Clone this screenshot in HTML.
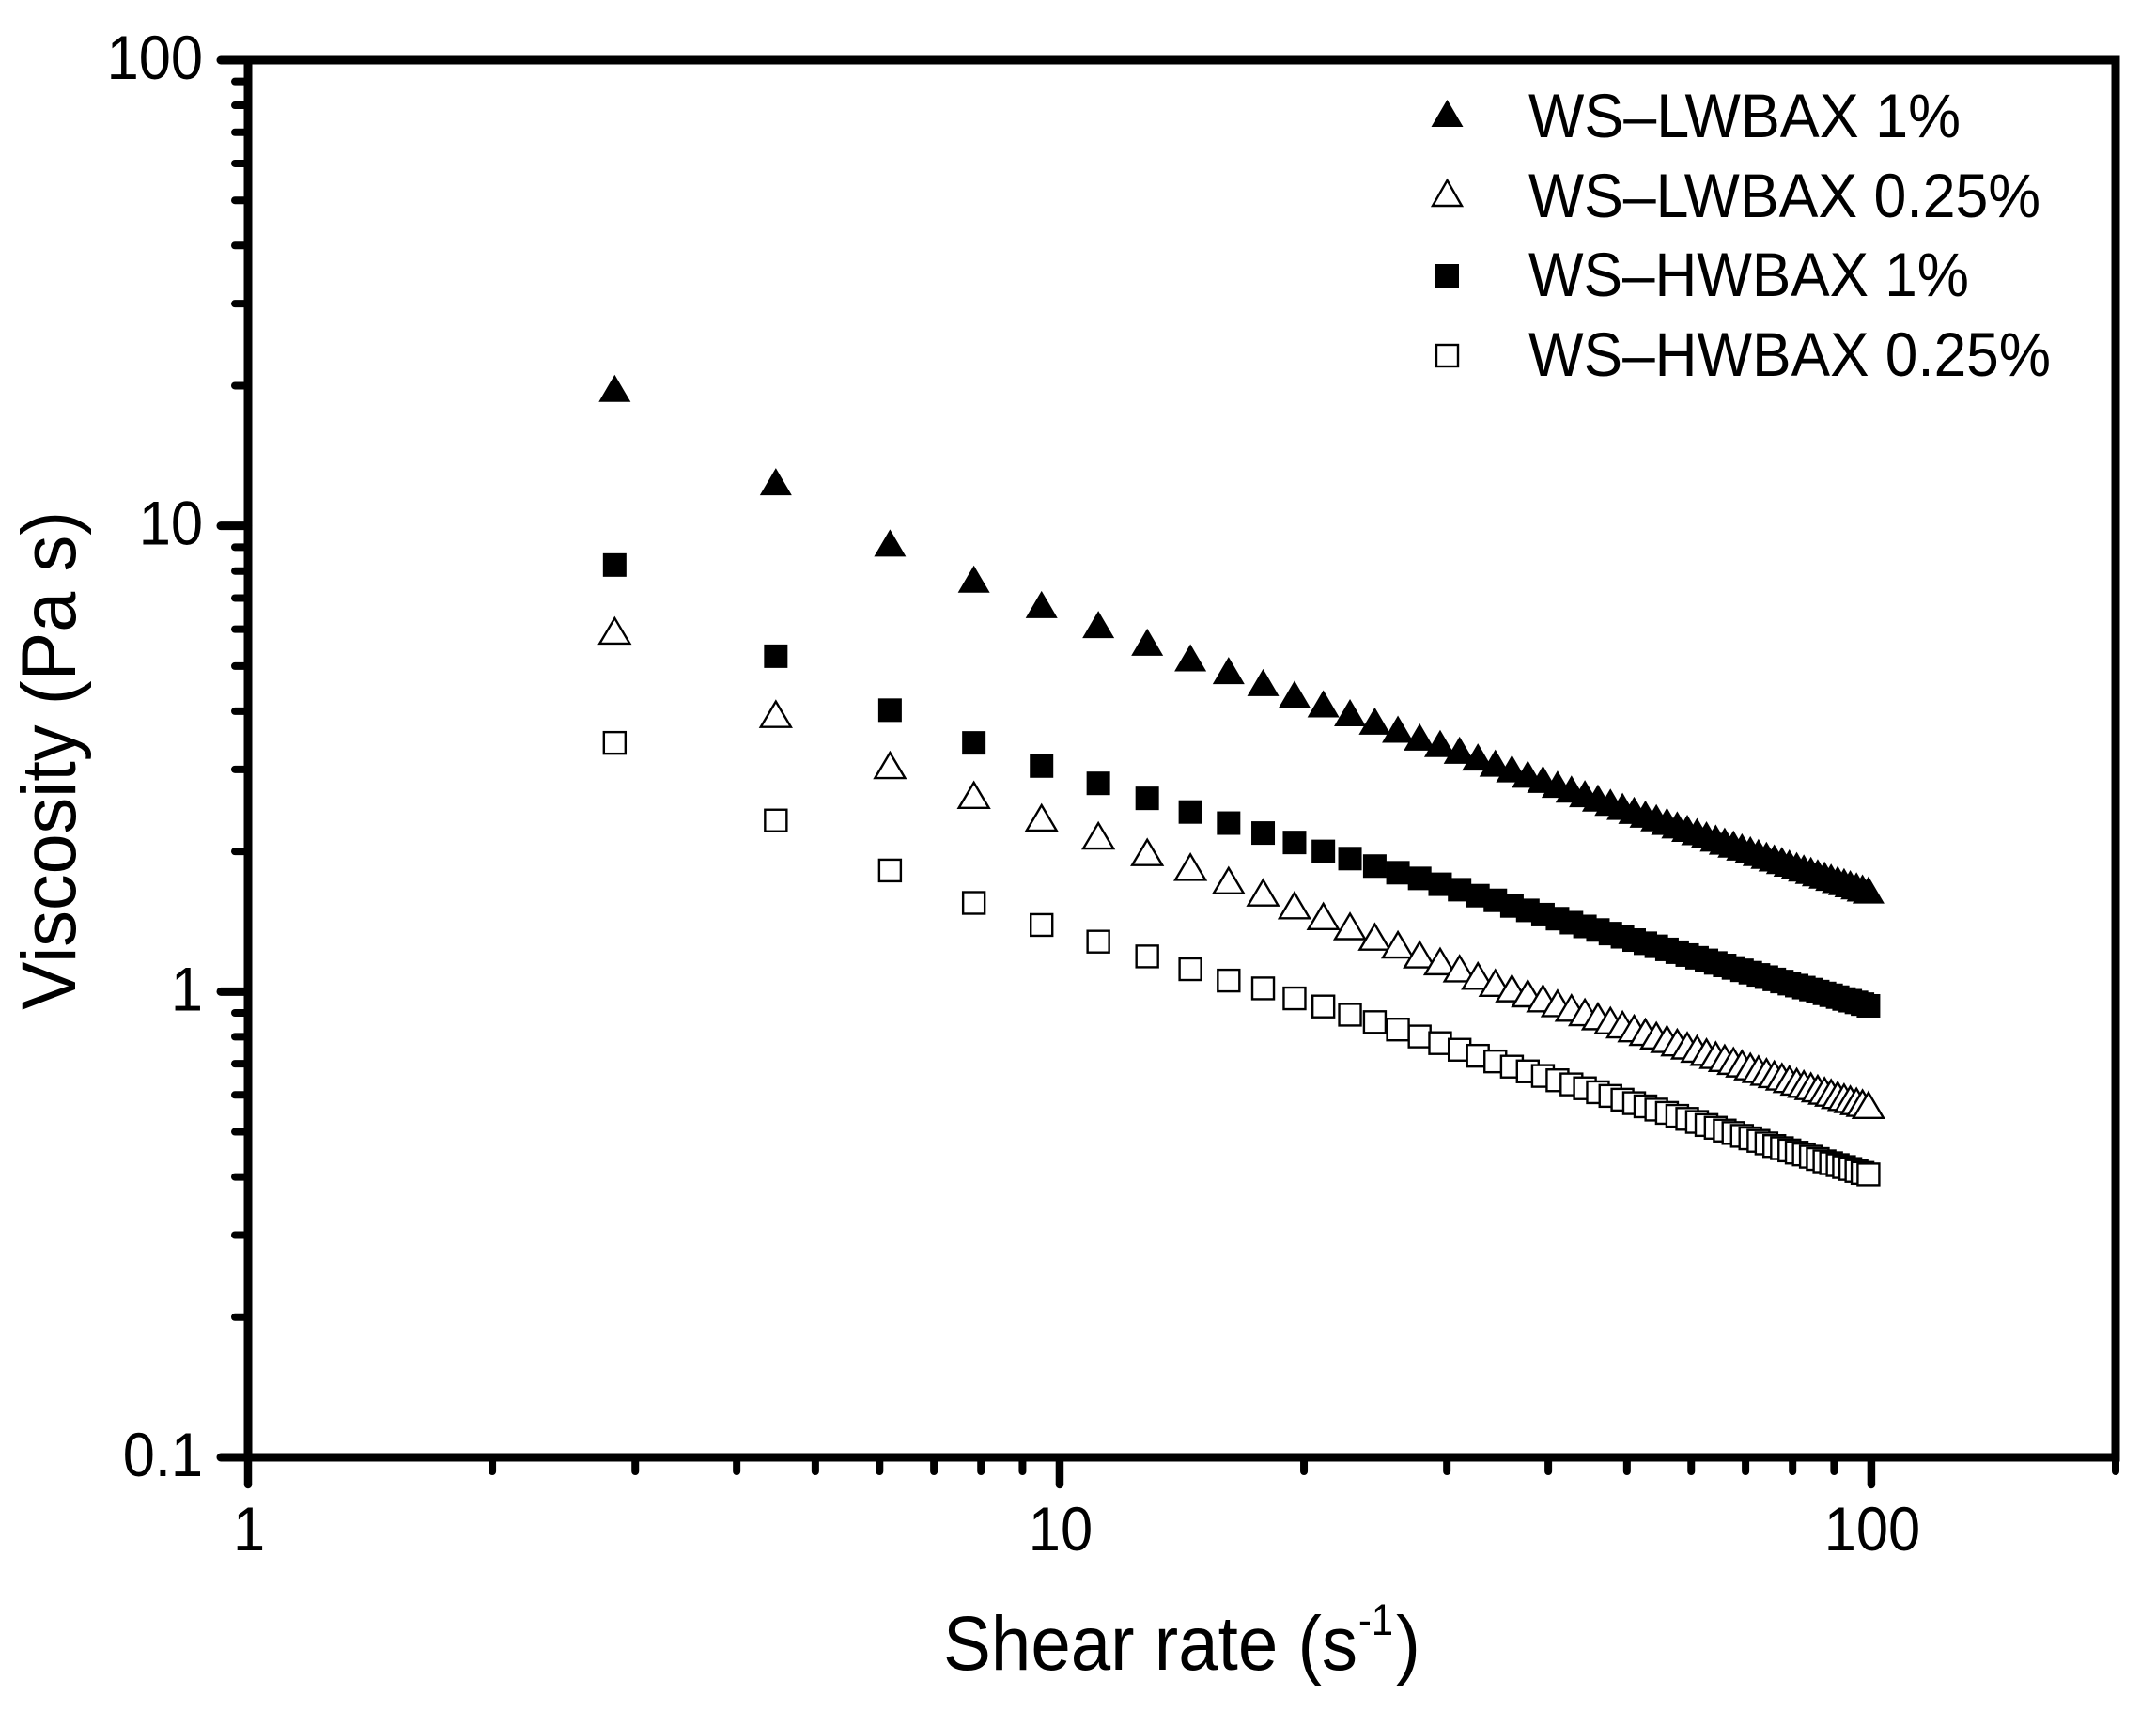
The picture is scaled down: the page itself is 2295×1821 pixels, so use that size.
<!DOCTYPE html>
<html lang="en">
<head>
<meta charset="utf-8">
<title>Viscosity vs shear rate</title>
<style>
html,body{margin:0;padding:0;background:#fff;}
svg{display:block;}
text{font-family:"Liberation Sans",Arial,sans-serif;fill:#000;}
.tick-text{font-size:66px;}
.legend-text{font-size:66px;}
.title-text{font-size:82px;}
</style>
</head>
<body>
<svg id="chart" xmlns="http://www.w3.org/2000/svg" width="2295" height="1821" viewBox="0 0 2295 1821">
  <rect x="0" y="0" width="2295" height="1821" fill="#fff"/>
  <g id="series-layer"></g>
  <g id="axes-layer"></g>
  <text class="title-text" transform="translate(80,1075) rotate(-90)" x="0" y="0" textLength="531" lengthAdjust="spacingAndGlyphs">Viscosity (Pa s)</text>
  <text class="title-text" x="1004" y="1777" textLength="441" lengthAdjust="spacingAndGlyphs">Shear rate (s</text>
  <text x="1446" y="1740" style="font-size:47px" textLength="37" lengthAdjust="spacingAndGlyphs">-1</text>
  <text class="title-text" x="1486" y="1777" textLength="26" lengthAdjust="spacingAndGlyphs">)</text>
  <g>
    <polygon points="1540.5,106 1557.5,135 1523.5,135" fill="#000"/>
    <text class="legend-text" x="1627" y="146" textLength="460" lengthAdjust="spacingAndGlyphs">WS–LWBAX 1%</text>
    <polygon points="1540.5,192 1556,219 1525,219" fill="#fff" stroke="#000" stroke-width="2.4"/>
    <text class="legend-text" x="1627" y="231" textLength="545" lengthAdjust="spacingAndGlyphs">WS–LWBAX 0.25%</text>
    <rect x="1528" y="281" width="25" height="25" fill="#000"/>
    <text class="legend-text" x="1627" y="315" textLength="469" lengthAdjust="spacingAndGlyphs">WS–HWBAX 1%</text>
    <rect x="1529" y="367" width="23" height="23" fill="#fff" stroke="#000" stroke-width="2.4"/>
    <text class="legend-text" x="1627" y="400" textLength="556" lengthAdjust="spacingAndGlyphs">WS–HWBAX 0.25%</text>
  </g>
</svg>
<script>
var shearRates = [2.83,4.47,6.18,7.84,9.50,11.16,12.82,14.49,16.15,17.81,19.47,21.13,22.79,24.45,26.11,27.77,29.43,31.10,32.76,34.42,36.08,37.74,39.40,41.06,42.72,44.38,46.05,47.71,49.37,51.03,52.69,54.35,56.01,57.67,59.33,61.00,62.66,64.32,65.98,67.64,69.30,70.96,72.62,74.28,75.95,77.61,79.27,80.93,82.59,84.25,85.91,87.57,89.23,90.90,92.56,94.22,95.88,97.54,99.20];

var viscosityLw1 = [19.74,12.44,9.19,7.69,6.78,6.14,5.63,5.21,4.89,4.61,4.35,4.15,3.97,3.81,3.66,3.52,3.41,3.30,3.19,3.095,3.010,2.931,2.857,2.788,2.723,2.662,2.605,2.551,2.500,2.451,2.406,2.362,2.320,2.280,2.242,2.206,2.170,2.137,2.105,2.074,2.045,2.016,1.989,1.962,1.937,1.912,1.888,1.865,1.843,1.821,1.800,1.780,1.760,1.741,1.723,1.705,1.687,1.670,1.653];

var viscosityLw025 = [5.95,3.94,3.06,2.64,2.36,2.16,1.99,1.85,1.73,1.63,1.53,1.45,1.38,1.31,1.26,1.20,1.16,1.12,1.08,1.043,1.015,0.990,0.966,0.943,0.922,0.902,0.884,0.866,0.849,0.833,0.818,0.804,0.790,0.777,0.765,0.753,0.741,0.730,0.719,0.709,0.700,0.690,0.681,0.672,0.664,0.656,0.648,0.640,0.633,0.626,0.619,0.612,0.606,0.599,0.593,0.587,0.581,0.576,0.570];

var viscosityHw1 = [8.24,5.25,4.02,3.42,3.05,2.80,2.60,2.43,2.30,2.19,2.09,2.00,1.93,1.86,1.80,1.75,1.70,1.655,1.607,1.57,1.527,1.494,1.463,1.434,1.406,1.380,1.356,1.332,1.311,1.290,1.270,1.251,1.232,1.215,1.198,1.182,1.167,1.152,1.138,1.124,1.111,1.098,1.086,1.074,1.062,1.051,1.040,1.030,1.020,1.010,1.000,0.991,0.982,0.973,0.964,0.956,0.948,0.940,0.932];

var viscosityHw025 = [3.42,2.33,1.82,1.55,1.39,1.28,1.19,1.117,1.056,1.016,0.967,0.929,0.892,0.860,0.829,0.801,0.775,0.750,0.728,0.708,0.690,0.674,0.659,0.645,0.632,0.620,0.608,0.597,0.586,0.576,0.567,0.558,0.549,0.541,0.533,0.525,0.517,0.510,0.503,0.497,0.490,0.484,0.478,0.472,0.466,0.461,0.456,0.451,0.447,0.442,0.437,0.432,0.428,0.424,0.420,0.416,0.412,0.408,0.405];

var xMajorTicks = [1,10,100];
var xMajorLabels = ["1","10","100"];
var xMinorTicks = [2,3,4,5,6,7,8,9,20,30,40,50,60,70,80,90,200];
var yMajorTicks = [0.1,1,10,100];
var yMajorLabels = ["0.1","1","10","100"];
var yMinorTicks = [0.2,0.3,0.4,0.5,0.6,0.7,0.8,0.9,2,3,4,5,6,7,8,9,20,30,40,50,60,70,80,90];

var SVG_NS = "http://www.w3.org/2000/svg";
var plot = {left:264, right:2252, top:64, bottom:1551, xMin:1, xMax:200, yMin:0.1, yMax:100};

function xScale(v){
  return plot.left + (Math.log10(v) - Math.log10(plot.xMin)) / (Math.log10(plot.xMax) - Math.log10(plot.xMin)) * (plot.right - plot.left);
}
function yScale(v){
  return plot.bottom - (Math.log10(v) - Math.log10(plot.yMin)) / (Math.log10(plot.yMax) - Math.log10(plot.yMin)) * (plot.bottom - plot.top);
}
function make(tag){
  return document.createElementNS(SVG_NS, tag);
}

var axesLayer = document.getElementById("axes-layer");
var seriesLayer = document.getElementById("series-layer");

function drawLine(x1, y1, x2, y2, width, cap, name){
  var line = make("line");
  line.setAttribute("x1", x1);
  line.setAttribute("y1", y1);
  line.setAttribute("x2", x2);
  line.setAttribute("y2", y2);
  line.setAttribute("stroke", "#000");
  line.setAttribute("stroke-width", width);
  line.setAttribute("stroke-linecap", cap);
  
  
  axesLayer.appendChild(line);
}
function drawTickLabel(str, x, y, anchor, name){
  var t = make("text");
  t.setAttribute("class", "tick-text");
  t.setAttribute("x", x);
  t.setAttribute("y", y);
  t.setAttribute("text-anchor", anchor);
  t.textContent = str;
  
  
  axesLayer.appendChild(t);
  var len = t.getComputedTextLength();
  t.setAttribute("textLength", (len * 0.93).toFixed(1));
  t.setAttribute("lengthAdjust", "spacingAndGlyphs");
}

// axis frame
var frameSides = [
  [plot.left, plot.top, plot.right, plot.top, "top-axis-line"],
  [plot.right, plot.top, plot.right, plot.bottom, "right-axis-line"],
  [plot.left, plot.bottom, plot.right, plot.bottom, "x-axis-line"],
  [plot.left, plot.top, plot.left, plot.bottom, "y-axis-line"]
];
frameSides.forEach(function(s){
  drawLine(s[0], s[1], s[2], s[3], 9, "square", s[4]);
});

// x ticks
xMinorTicks.forEach(function(v){
  drawLine(xScale(v), plot.bottom, xScale(v), 1566, 8, "round", "x-minor-tick");
});
xMajorTicks.forEach(function(v, i){
  drawLine(xScale(v), plot.bottom, xScale(v), 1580, 8.5, "round", "x-major-tick");
  drawTickLabel(xMajorLabels[i], xScale(v) + 1, 1650, "middle", "x-tick-label");
});

// y ticks
yMinorTicks.forEach(function(v){
  drawLine(plot.left, yScale(v), 250, yScale(v), 8, "round", "y-minor-tick");
});
yMajorTicks.forEach(function(v, i){
  drawLine(plot.left, yScale(v), 235, yScale(v), 9, "round", "y-major-tick");
  drawTickLabel(yMajorLabels[i], 216, yScale(v) + 20, "end", "y-tick-label");
});

// markers
function drawTriangle(parent, cx, cy, hollow, name){
  var p = make("polygon");
  var w = hollow ? 16 : 17;
  var h = hollow ? 13.5 : 14.5;
  p.setAttribute("points", (cx) + "," + (cy - h) + " " + (cx + w) + "," + (cy + h) + " " + (cx - w) + "," + (cy + h));
  p.setAttribute("fill", hollow ? "#fff" : "#000");
  if (hollow) {
    p.setAttribute("stroke", "#000");
    p.setAttribute("stroke-width", "2.4");
  }
  
  
  parent.appendChild(p);
}
function drawSquare(parent, cx, cy, hollow, name){
  var r = make("rect");
  var s = hollow ? 23 : 25;
  r.setAttribute("x", cx - s / 2);
  r.setAttribute("y", cy - s / 2);
  r.setAttribute("width", s);
  r.setAttribute("height", s);
  r.setAttribute("fill", hollow ? "#fff" : "#000");
  if (hollow) {
    r.setAttribute("stroke", "#000");
    r.setAttribute("stroke-width", "2.4");
  }
  
  
  parent.appendChild(r);
}
function drawSeries(values, shape, hollow, name){
  var g = make("g");
  
  
  seriesLayer.appendChild(g);
  values.forEach(function(v, i){
    var cx = xScale(shearRates[i]);
    var cy = yScale(v);
    shape(g, cx, cy, hollow, name + "-point");
  });
}
drawSeries(viscosityHw025, drawSquare, true, "series-ws-hwbax-025");
drawSeries(viscosityLw025, drawTriangle, true, "series-ws-lwbax-025");
drawSeries(viscosityHw1, drawSquare, false, "series-ws-hwbax-1");
drawSeries(viscosityLw1, drawTriangle, false, "series-ws-lwbax-1");
</script>
</body>
</html>
